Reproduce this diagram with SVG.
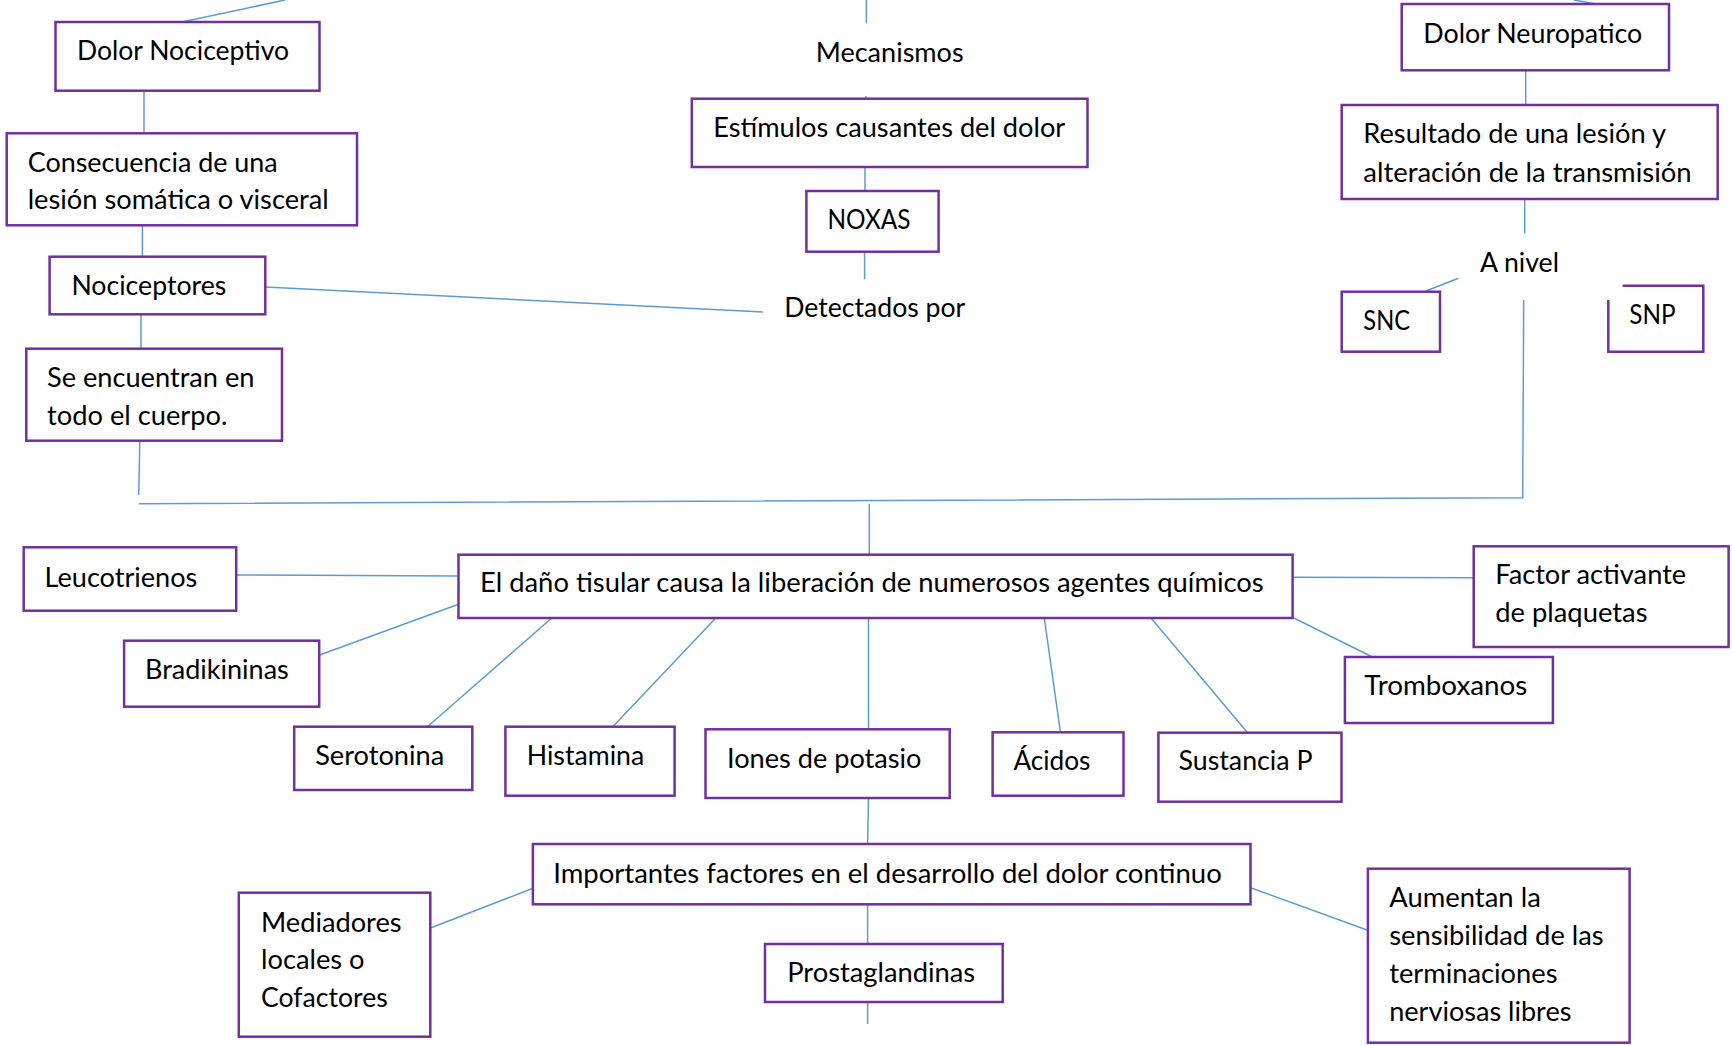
<svg xmlns="http://www.w3.org/2000/svg" width="1732" height="1046" viewBox="0 0 1732 1046">
<style>
.box{fill:#fff;stroke:#7030A0;stroke-width:2.5}
.c{stroke:#5B9BD5;stroke-width:1.5;fill:none}
text{font-family:Lato,"Liberation Sans",sans-serif;font-size:26px;fill:#000}
</style>
<rect width="1732" height="1046" fill="#fff"/>
<g id="connectors">
<line class="c" x1="182" y1="22" x2="285" y2="0"/>
<line class="c" x1="144" y1="91" x2="144" y2="133"/>
<line class="c" x1="142.4" y1="225" x2="142.4" y2="257"/>
<line class="c" x1="265" y1="287" x2="763" y2="312"/>
<line class="c" x1="141" y1="314" x2="141" y2="348.5"/>
<line class="c" x1="139.8" y1="441" x2="138.7" y2="495"/>
<polyline class="c" points="139,503.7 1522.7,497.7 1523.7,300"/>
<line class="c" x1="866.4" y1="0" x2="866.4" y2="23.3"/>
<line class="c" x1="866" y1="96" x2="866" y2="98.7"/>
<line class="c" x1="865" y1="167" x2="865" y2="191"/>
<line class="c" x1="864.6" y1="251.7" x2="864.6" y2="279.3"/>
<line class="c" x1="1574" y1="0" x2="1596" y2="4"/>
<line class="c" x1="1525.7" y1="70" x2="1525.7" y2="105"/>
<line class="c" x1="1524.7" y1="199" x2="1524.7" y2="233.3"/>
<line class="c" x1="1458.3" y1="278.3" x2="1426" y2="291"/>
<line class="c" x1="869.3" y1="503.7" x2="869.3" y2="554.7"/>
<line class="c" x1="236.2" y1="575" x2="458.5" y2="576"/>
<line class="c" x1="458.5" y1="604.3" x2="319.6" y2="655"/>
<line class="c" x1="551.8" y1="618" x2="427.7" y2="726.5"/>
<line class="c" x1="715.8" y1="618" x2="613" y2="726.5"/>
<line class="c" x1="868.5" y1="618" x2="868.5" y2="729.3"/>
<line class="c" x1="1044.3" y1="618" x2="1060.4" y2="732"/>
<line class="c" x1="1151" y1="618" x2="1247" y2="732"/>
<line class="c" x1="1293.9" y1="618" x2="1372.4" y2="657"/>
<line class="c" x1="1292.6" y1="577.3" x2="1473.7" y2="577.7"/>
<line class="c" x1="868.5" y1="798" x2="867.6" y2="844"/>
<line class="c" x1="532.9" y1="888.3" x2="431.2" y2="927.7"/>
<line class="c" x1="867.6" y1="904.3" x2="867.6" y2="944"/>
<line class="c" x1="867.6" y1="1002" x2="867.6" y2="1024"/>
<line class="c" x1="1250.5" y1="887.7" x2="1367" y2="930"/>
</g>
<g id="n-dolor-nociceptivo"><rect class="box" x="55.5" y="22" width="264" height="68.7"/><text x="77" y="60" textLength="212" lengthAdjust="spacingAndGlyphs">Dolor Nociceptivo</text></g>
<g id="n-consecuencia"><rect class="box" x="6.7" y="133.3" width="350.3" height="92"/><text x="27.7" y="171.7" textLength="250" lengthAdjust="spacingAndGlyphs">Consecuencia de una</text><text x="27.7" y="209.3" textLength="301" lengthAdjust="spacingAndGlyphs">lesión somática o visceral</text></g>
<g id="n-nociceptores"><rect class="box" x="49.6" y="256.7" width="215.7" height="57.6"/><text x="71.4" y="295" textLength="155" lengthAdjust="spacingAndGlyphs">Nociceptores</text></g>
<g id="n-se-encuentran"><rect class="box" x="26.3" y="348.7" width="255.7" height="92"/><text x="47" y="386.7" textLength="207.5" lengthAdjust="spacingAndGlyphs">Se encuentran en</text><text x="47" y="425" textLength="180.5" lengthAdjust="spacingAndGlyphs">todo el cuerpo.</text></g>
<g id="n-mecanismos"><text x="815.7" y="61.7" textLength="148" lengthAdjust="spacingAndGlyphs">Mecanismos</text></g>
<g id="n-estimulos"><rect class="box" x="691.8" y="98.7" width="395.7" height="68.3"/><text x="713.2" y="136.7" textLength="352" lengthAdjust="spacingAndGlyphs">Estímulos causantes del dolor</text></g>
<g id="n-noxas"><rect class="box" x="806.4" y="191" width="132.2" height="60.7"/><text x="827.5" y="229.3" textLength="83" lengthAdjust="spacingAndGlyphs">NOXAS</text></g>
<g id="n-detectados"><text x="784.3" y="317.3" textLength="181" lengthAdjust="spacingAndGlyphs">Detectados por</text></g>
<g id="n-dolor-neuropatico"><rect class="box" x="1401.7" y="4" width="267.3" height="66.3"/><text x="1423.3" y="42.7" textLength="219" lengthAdjust="spacingAndGlyphs">Dolor Neuropatico</text></g>
<g id="n-resultado"><rect class="box" x="1341.7" y="105" width="376" height="94"/><text x="1363.3" y="142.7" textLength="302.7" lengthAdjust="spacingAndGlyphs">Resultado de una lesión y</text><text x="1363.3" y="181.7" textLength="328.3" lengthAdjust="spacingAndGlyphs">alteración de la transmisión</text></g>
<g id="n-a-nivel"><text x="1480" y="271.7" textLength="79" lengthAdjust="spacingAndGlyphs">A nivel</text></g>
<g id="n-snc"><rect class="box" x="1341.7" y="291.7" width="98.3" height="60"/><text x="1363.3" y="330" textLength="46.7" lengthAdjust="spacingAndGlyphs">SNC</text></g>
<g id="n-snp"><path class="box" d="M1622.7,285.7 H1703.3 V351.7 H1608.3 V300"/><text x="1629.3" y="324" textLength="46.3" lengthAdjust="spacingAndGlyphs">SNP</text></g>
<g id="n-leucotrienos"><rect class="box" x="23.7" y="547.3" width="212.5" height="63.4"/><text x="44.6" y="586.7" textLength="152.7" lengthAdjust="spacingAndGlyphs">Leucotrienos</text></g>
<g id="n-dano"><rect class="box" x="458.5" y="554.7" width="834.1" height="63.3"/><text x="480" y="592.3" textLength="783.7" lengthAdjust="spacingAndGlyphs">El daño tisular causa la liberación de numerosos agentes químicos</text></g>
<g id="n-factor"><rect class="box" x="1473.7" y="546.3" width="254.9" height="100.7"/><text x="1495.2" y="584.3" textLength="191" lengthAdjust="spacingAndGlyphs">Factor activante</text><text x="1495.2" y="621.7" textLength="152.3" lengthAdjust="spacingAndGlyphs">de plaquetas</text></g>
<g id="n-bradikininas"><rect class="box" x="124.1" y="640.7" width="195.1" height="66"/><text x="145" y="679.3" textLength="143.8" lengthAdjust="spacingAndGlyphs">Bradikininas</text></g>
<g id="n-tromboxanos"><rect class="box" x="1344.9" y="657" width="208" height="66"/><text x="1364.3" y="695" textLength="163" lengthAdjust="spacingAndGlyphs">Tromboxanos</text></g>
<g id="n-serotonina"><rect class="box" x="294.2" y="726.7" width="178.1" height="63.3"/><text x="315.2" y="765" textLength="129" lengthAdjust="spacingAndGlyphs">Serotonina</text></g>
<g id="n-histamina"><rect class="box" x="505.4" y="726.7" width="169.2" height="69"/><text x="526.8" y="765" textLength="117.4" lengthAdjust="spacingAndGlyphs">Histamina</text></g>
<g id="n-iones"><rect class="box" x="705.5" y="729.3" width="244.2" height="68.7"/><text x="727" y="767.7" textLength="194.5" lengthAdjust="spacingAndGlyphs">Iones de potasio</text></g>
<g id="n-acidos"><rect class="box" x="992.6" y="732.3" width="130.9" height="63.4"/><text x="1013.4" y="770" textLength="77" lengthAdjust="spacingAndGlyphs">Ácidos</text></g>
<g id="n-sustancia"><rect class="box" x="1158.4" y="732.7" width="183.1" height="69"/><text x="1178.5" y="770" textLength="134" lengthAdjust="spacingAndGlyphs">Sustancia P</text></g>
<g id="n-importantes"><rect class="box" x="532.9" y="844" width="717.6" height="60.3"/><text x="553.2" y="882.7" textLength="668.6" lengthAdjust="spacingAndGlyphs">Importantes factores en el desarrollo del dolor continuo</text></g>
<g id="n-mediadores"><rect class="box" x="238.8" y="892.7" width="191.5" height="144"/><text x="261" y="931.7" textLength="140.6" lengthAdjust="spacingAndGlyphs">Mediadores</text><text x="261" y="969" textLength="103.6" lengthAdjust="spacingAndGlyphs">locales o</text><text x="261" y="1006.7" textLength="126.7" lengthAdjust="spacingAndGlyphs">Cofactores</text></g>
<g id="n-prostaglandinas"><rect class="box" x="765" y="944" width="237.7" height="58"/><text x="787.2" y="982.3" textLength="188" lengthAdjust="spacingAndGlyphs">Prostaglandinas</text></g>
<g id="n-aumentan"><rect class="box" x="1367.9" y="868.7" width="261.7" height="174"/><text x="1389.2" y="907.3" textLength="151.6" lengthAdjust="spacingAndGlyphs">Aumentan la</text><text x="1389.2" y="945" textLength="214.5" lengthAdjust="spacingAndGlyphs">sensibilidad de las</text><text x="1389.2" y="983.3" textLength="168.3" lengthAdjust="spacingAndGlyphs">terminaciones</text><text x="1389.2" y="1021" textLength="182.2" lengthAdjust="spacingAndGlyphs">nerviosas libres</text></g>
</svg>
